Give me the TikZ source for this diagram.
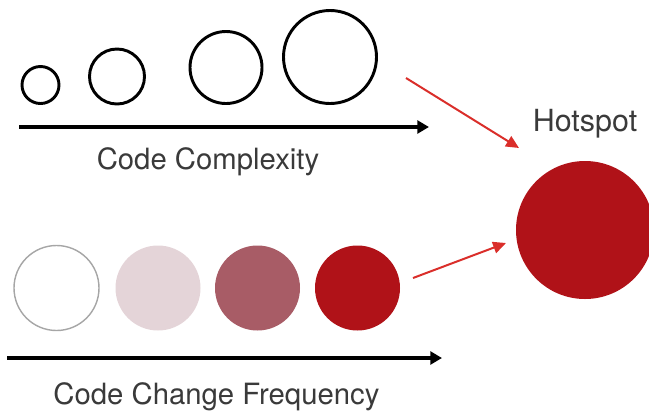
\documentclass[tikz,border=0pt]{standalone}
\usepackage{fontspec}
\setmainfont{TeX Gyre Heros}
\usetikzlibrary{arrows.meta}
\definecolor{HotRed}{RGB}{176,18,24}
\definecolor{MidRose}{RGB}{168,92,102}
\definecolor{PaleRose}{RGB}{228,212,216}
\definecolor{ArrowRed}{RGB}{218,46,42}
\definecolor{LabelGray}{RGB}{58,58,58}

\begin{document}
\begin{tikzpicture}[x=0.03cm, y=-0.03cm,
	font=\fontsize{25}{30}\selectfont,
	ring/.style={circle, draw=black, line width=2.5pt, inner sep=0pt},
	blob/.style={circle, inner sep=0pt, minimum size=2.55cm},
	etiqueta/.style={text=LabelGray, inner sep=0pt},
	eje/.style={-{Triangle[length=10pt, width=11pt]}, line width=2.6pt},
	fl/.style={-{Triangle[length=11pt, width=10pt]}, line width=1.7pt, ArrowRed}]
	\useasboundingbox (0,0) rectangle (649,412);

	\node[ring, minimum size=1.11cm] (cx1) at (40.5,85) {};
	\node[ring, minimum size=1.65cm] (cx2) at (117,76.5) {};
	\node[ring, minimum size=2.16cm] (cx3) at (226,67.5) {};
	\node[ring, minimum size=2.79cm] (cx4) at (330,57) {};

	\coordinate (cxA) at (19,127);
	\coordinate (cxB) at (429,127);
	\draw[eje] (cxA) -- (cxB);
	\node[etiqueta] (cxlab) at (208,162) {Code Complexity};

	\node[blob, draw=gray!70, line width=1.2pt, fill=white] (cf1) at (56.5,288) {};
	\node[blob, fill=PaleRose] (cf2) at (158,288) {};
	\node[blob, fill=MidRose] (cf3) at (257.5,288) {};
	\node[blob, fill=HotRed] (cf4) at (357.5,288) {};

	\coordinate (cfA) at (7,358);
	\coordinate (cfB) at (442,358);
	\draw[eje] (cfA) -- (cfB);
	\node[etiqueta] (cflab) at (216.5,397) {Code Change Frequency};

	\node[circle, fill=HotRed, inner sep=0pt, minimum size=4.14cm] (hot) at (585,230) {};
	\node[etiqueta, font=\fontsize{26}{30}\selectfont] (hotlab) at (585,124) {Hotspot};

	\coordinate (uno) at (406,78);
	\coordinate (dos) at (519,148);
	\coordinate (tres) at (413,278);
	\coordinate (cuatro) at (506,243);
	\draw[fl] (uno) -- (dos);
	\draw[fl] (tres) -- (cuatro);
\end{tikzpicture}
\end{document}
